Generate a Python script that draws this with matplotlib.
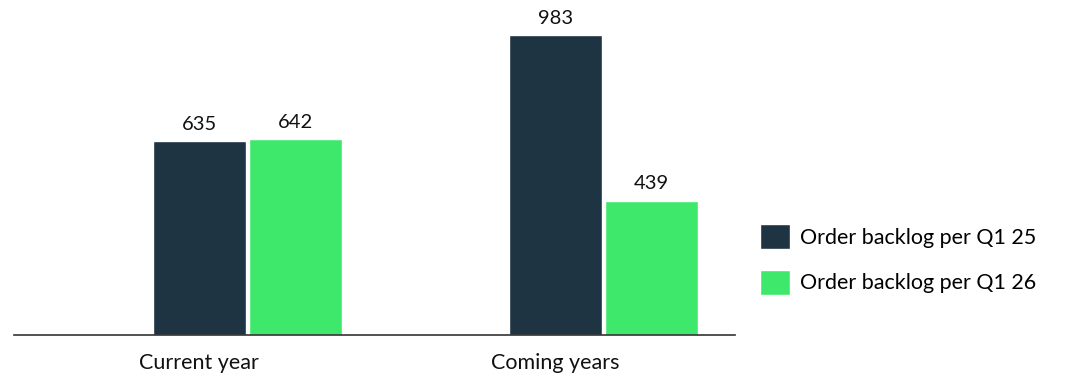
import matplotlib
matplotlib.use("Agg")
import matplotlib.pyplot as plt
import numpy as np

categories = ["Current year", "Coming years"]
series_names = ["Order backlog per Q1 25", "Order backlog per Q1 26"]
q1_25 = [635, 983]
q1_26 = [642, 439]
colors = ["#1f3442", "#3de86a"]

plt.rcParams['font.family'] = ['Lato', 'DejaVu Sans']

fig = plt.figure(figsize=(10.66, 3.76), dpi=100)
ax = fig.add_axes([14/1066, 1 - 334.5/376, (735-14)/1066, 334.5/376])

x = np.arange(len(categories))
w = 0.262
off = 0.135
b1 = ax.bar(x - off, q1_25, width=w, color=colors[0], edgecolor="white", linewidth=1.0, label=series_names[0])
b2 = ax.bar(x + off, q1_26, width=w, color=colors[1], edgecolor="white", linewidth=1.0, label=series_names[1])
for bars in (b1, b2):
    ax.bar_label(bars, padding=6, fontsize=14.5, color="#111111")

ax.set_xlim(-0.655, 1.37)
ax.set_ylim(0, 1098)
for s in ["top", "right", "left"]:
    ax.spines[s].set_visible(False)
ax.spines["bottom"].set_color("#333333")
ax.spines["bottom"].set_linewidth(1.2)
ax.set_yticks([])
ax.set_xticks(x - off)
ax.set_xticklabels(categories, fontsize=15.5, color="#111111")
ax.tick_params(axis="x", length=0, pad=13)

ax.legend(loc="center left", bbox_to_anchor=(760/1066, 1 - 259.5/376), bbox_transform=fig.transFigure,
          frameon=False, fontsize=15.5, handlelength=1.4, handleheight=1.4, handletextpad=0.45,
          labelspacing=0.95, borderpad=0, borderaxespad=0)

fig.savefig("out.png", dpi=100)
